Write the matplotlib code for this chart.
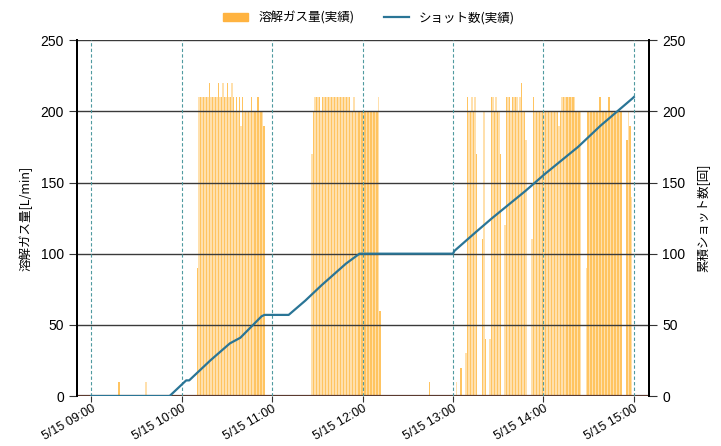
import matplotlib
matplotlib.use("Agg")
import matplotlib.pyplot as plt
import matplotlib.dates as mdates
from matplotlib.patches import Patch
from matplotlib.lines import Line2D
from datetime import datetime, timedelta

plt.rcParams['font.family'] = ['Noto Sans CJK JP', 'DejaVu Sans']

DAY = "2024-05-15 "

# dissolved gas [L/min], one value per minute, blocks given by start time
gas_block1_start = "10:10"
gas_block1 = [90, 210, 210, 210, 210, 210, 210, 210, 220, 210, 210, 210, 210, 210,
              220, 210, 210, 220, 210, 210, 220, 210, 210, 220, 210, 200, 210, 200,
              210, 190, 210, 200, 200, 200, 200, 200, 210, 200, 200, 200, 210, 200,
              200, 200, 190]
gas_block2_start = "11:26"
gas_block2 = [170, 200, 210, 210, 210, 210, 200, 210, 210, 210, 210, 210, 210, 210,
              210, 210, 210, 210, 210, 210, 210, 210, 210, 210, 210, 210, 200, 200,
              210, 200, 200, 200, 200, 200, 200, 200, 200, 200, 200, 200, 200, 200,
              200, 200, 210, 60]
gas_block3_start = "13:02"
gas_block3 = [10, 0, 0, 20, 0, 0, 30,
              210, 200, 200, 210, 200, 210, 170,
              0, 0, 0,
              110, 200, 40, 0, 0, 40,
              210, 210, 200, 210, 200, 200, 170,
              0, 0, 120,
              210, 210, 210, 200, 210, 210, 210, 210, 200, 210,
              220, 200, 200, 180,
              0, 0, 0, 110,
              210,
              200, 200, 200, 200, 200, 200, 200, 200, 200, 200, 200, 200, 200, 200, 200, 200,
              190, 200,
              210, 210, 210, 210, 210, 210, 210, 210, 210,
              200, 200, 200, 200,
              0, 0, 0, 90,
              200, 200, 200, 200, 200, 200, 200, 200,
              210,
              200, 200, 200, 200, 200,
              210,
              200, 200, 200, 200, 200, 200, 200, 200,
              0, 0, 0,
              180, 200, 190, 140]
gas_single_times = ["09:18", "09:36", "12:44"]
gas_single_values = [10, 10, 10]

# cumulative shot count
shot_times = ["09:00", "09:52", "10:03", "10:05", "10:19", "10:32", "10:39", "10:53",
              "10:55", "11:11", "11:22", "11:33", "11:49", "11:58", "13:00", "13:01",
              "13:15", "13:26", "13:48", "14:01", "14:23", "14:38", "14:59", "15:00"]
shot_counts = [0, 0, 11, 11, 25, 37, 41, 56, 57, 57, 67, 78, 93, 100, 100, 102,
               115, 125, 144, 156, 175, 190, 209, 210]

hour_ticks = ["09:00", "10:00", "11:00", "12:00", "13:00", "14:00", "15:00"]


def t(hm):
    return datetime.strptime(DAY + hm, "%Y-%m-%d %H:%M")


gas_t, gas_v = [], []
for start, vals in [(gas_block1_start, gas_block1), (gas_block2_start, gas_block2),
                    (gas_block3_start, gas_block3)]:
    for i, v in enumerate(vals):
        gas_t.append(t(start) + timedelta(minutes=i))
        gas_v.append(v)
for hm, v in zip(gas_single_times, gas_single_values):
    gas_t.append(t(hm))
    gas_v.append(v)

fig = plt.figure(figsize=(7.21, 4.46), dpi=100)
ax = fig.add_axes([0.107, 0.112, 0.793, 0.798])
ax2 = ax.twinx()

bar_colors = ['#ffc461' if i % 2 == 0 else '#ffe0ad' for i in range(len(gas_t))]
ax.bar(gas_t, gas_v, width=1 / 1440, align='edge', color=bar_colors, linewidth=0, zorder=2)

ax2.plot([t(s) for s in shot_times], shot_counts, color='#2a7596', lw=1.6, zorder=5)

for a in (ax, ax2):
    a.set_ylim(0, 250)
    a.set_yticks(range(0, 251, 50))
ax.set_xlim(t("08:50") + timedelta(seconds=40), t("15:10"))

# grid lines on top of bars
for y in range(50, 251, 50):
    ax.axhline(y, color='#3a3a3a', lw=1.0, zorder=3)
ax.axhline(0, color='#5a3a30', lw=1.6, zorder=3)
for hm in hour_ticks:
    ax.axvline(t(hm), color='#4f9aa0', lw=0.8, ls=(0, (3, 2)), zorder=3)

ax.set_xticks([t(hm) for hm in hour_ticks])
ax.xaxis.set_major_formatter(mdates.DateFormatter("5/15 %H:%M"))
plt.setp(ax.get_xticklabels(), rotation=30, ha='right', rotation_mode='anchor',
         family='Liberation Sans', fontsize=9)

for a in (ax, ax2):
    a.tick_params(axis='y', labelsize=10, color='#333333', length=6)
    a.spines['top'].set_visible(False)
    a.spines['left'].set_linewidth(1.4)
    a.spines['right'].set_linewidth(1.4)
    a.spines['bottom'].set_visible(False)
    for lab in a.get_yticklabels():
        lab.set_family('Liberation Sans')
ax.tick_params(axis='x', color='#333333', length=4, pad=1)

ax.set_ylabel("溶解ガス量[L/min]", fontsize=9, labelpad=6)
ax2.set_ylabel("累積ショット数[回]", fontsize=9, labelpad=8)

handles = [Patch(color='#ffb340', label='溶解ガス量(実績)'),
           Line2D([], [], color='#2a7596', lw=1.6, label='ショット数(実績)')]
fig.legend(handles=handles, loc='upper center', bbox_to_anchor=(0.512, 1.0), ncol=2,
           frameon=False, fontsize=9, handlelength=2.0, columnspacing=2.4)

fig.savefig("out.png", dpi=100)
